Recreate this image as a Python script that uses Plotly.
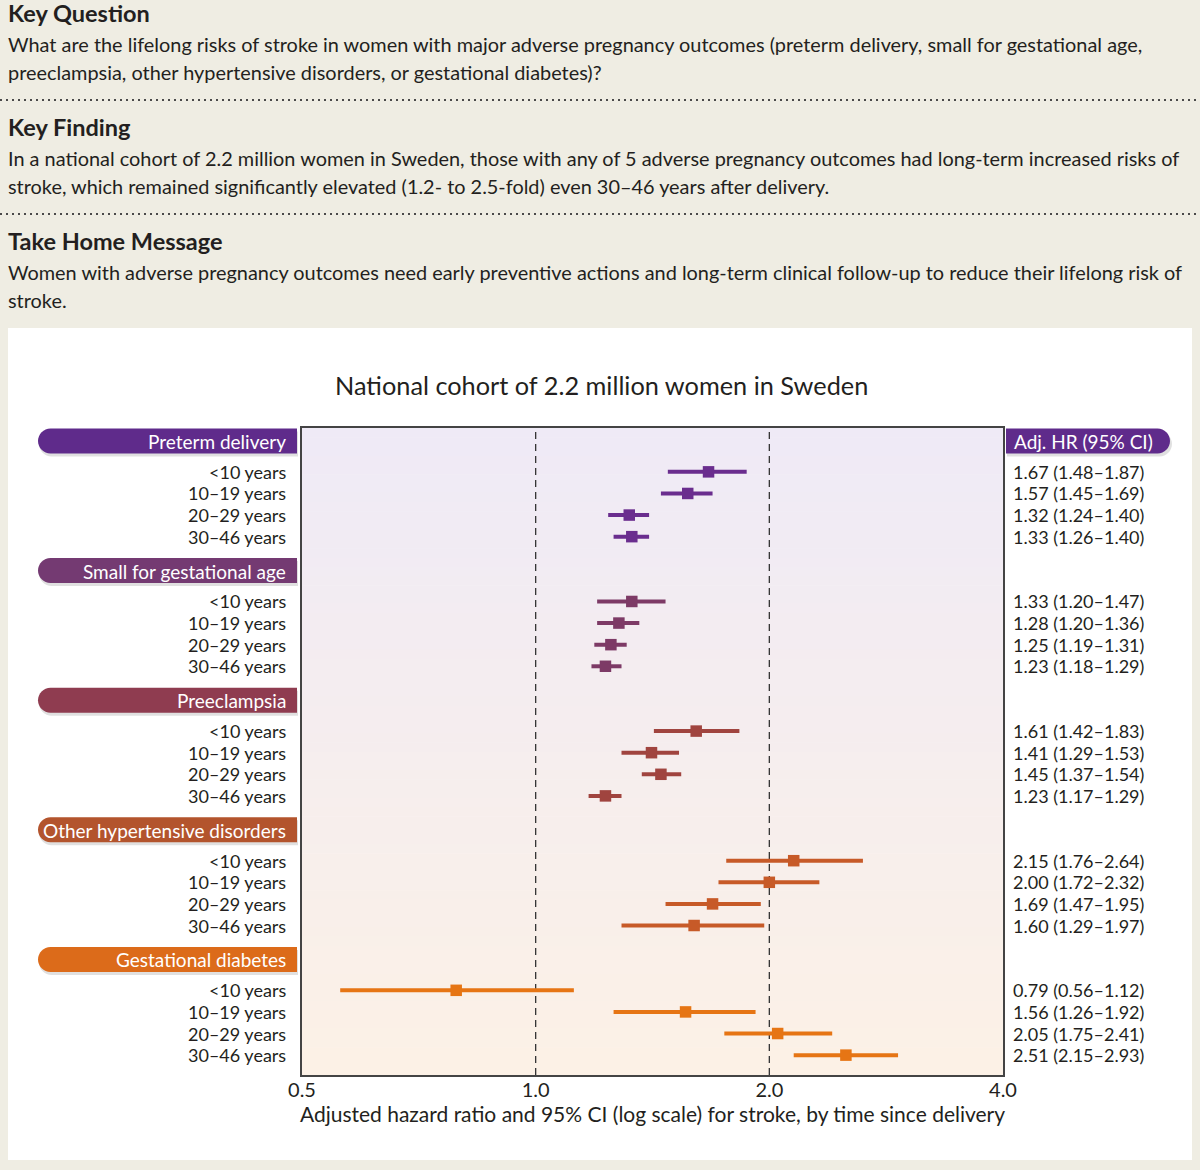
import math
import plotly.graph_objects as go

# ---------------- data ----------------
groups = ["Preterm delivery", "Small for gestational age", "Preeclampsia",
          "Other hypertensive disorders", "Gestational diabetes"]
periods = ["<10 years", "10–19 years", "20–29 years", "30–46 years"]
hr = [
    [1.67, 1.57, 1.32, 1.33],
    [1.33, 1.28, 1.25, 1.23],
    [1.61, 1.41, 1.45, 1.23],
    [2.15, 2.00, 1.69, 1.60],
    [0.79, 1.56, 2.05, 2.51],
]
lo = [
    [1.48, 1.45, 1.24, 1.26],
    [1.20, 1.20, 1.19, 1.18],
    [1.42, 1.29, 1.37, 1.17],
    [1.76, 1.72, 1.47, 1.29],
    [0.56, 1.26, 1.75, 2.15],
]
hi = [
    [1.87, 1.69, 1.40, 1.40],
    [1.47, 1.36, 1.31, 1.29],
    [1.83, 1.53, 1.54, 1.29],
    [2.64, 2.32, 1.95, 1.97],
    [1.12, 1.92, 2.41, 2.93],
]
tick_vals = [0.5, 1.0, 2.0, 4.0]
tick_text = ["0.5", "1.0", "2.0", "4.0"]
ref_lines = [1.0, 2.0]

marker_colors = ["#6a2d8e", "#7d3a66", "#a0443f", "#c75a28", "#e67514"]
pill_colors = ["#5f2b8b", "#743a72", "#8f3c50", "#b3542d", "#dc6b1a"]

title = "National cohort of 2.2 million women in Sweden"
xlabel = "Adjusted hazard ratio and 95% CI (log scale) for stroke, by time since delivery"
hr_header = "Adj. HR (95% CI)"

info = [
    ("Key Question",
     ["What are the lifelong risks of stroke in women with major adverse pregnancy outcomes (preterm delivery, small for gestational age,",
      "preeclampsia, other hypertensive disorders, or gestational diabetes)?"]),
    ("Key Finding",
     ["In a national cohort of 2.2 million women in Sweden, those with any of 5 adverse pregnancy outcomes had long-term increased risks of",
      "stroke, which remained significantly elevated (1.2- to 2.5-fold) even 30–46 years after delivery."]),
    ("Take Home Message",
     ["Women with adverse pregnancy outcomes need early preventive actions and long-term clinical follow-up to reduce their lifelong risk of",
      "stroke."]),
]

# ---------------- layout geometry ----------------
W, H = 1200, 1170
L, R, T, B = 302, 1003, 428, 1075  # plot area in px
FONT = "Lato"
TXT = "#231f20"

YMIN, YMAX = -0.6, 29.35   # slot units (reversed axis)
ROW_OFF = 1.43


def px(X):
    return (X - L) / (R - L)


def py(Y):
    return 1 - (Y - T) / (B - T)


def slot_to_Y(s):
    return T + (s - YMIN) / (YMAX - YMIN) * (B - T)


fig = go.Figure()

shapes = []
annotations = []

# white panel
shapes.append(dict(type="rect", xref="paper", yref="paper", x0=px(8), x1=px(1192),
                   y0=py(328), y1=py(1160), fillcolor="white", line_width=0, layer="below"))

# gradient plot background
top_c = (239, 234, 246)
bot_c = (252, 241, 230)
N = 70
for i in range(N):
    t = i / (N - 1)
    c = tuple(round(top_c[k] + (bot_c[k] - top_c[k]) * t) for k in range(3))
    y0 = T + (B - T) * i / N
    y1 = T + (B - T) * (i + 1) / N + 0.6
    shapes.append(dict(type="rect", xref="paper", yref="paper", x0=0, x1=1,
                       y0=py(min(y1, B)), y1=py(y0), fillcolor="rgb(%d,%d,%d)" % c,
                       line_width=0, layer="below"))

# dotted separators
for Y in (100, 214):
    shapes.append(dict(type="line", xref="paper", yref="paper", x0=px(0), x1=px(1200),
                       y0=py(Y), y1=py(Y), line=dict(color="#4a4a4a", width=2, dash="2px,4px")))

# info text
hdr_Y = [13, 127, 241]
for (head, lines), hy in zip(info, hdr_Y):
    annotations.append(dict(xref="paper", yref="paper", x=px(6), y=py(hy), xanchor="left",
                            yanchor="middle", showarrow=False, text="<b>%s</b>" % head,
                            font=dict(family=FONT, size=23.5, color=TXT)))
    for j, ln in enumerate(lines):
        annotations.append(dict(xref="paper", yref="paper", x=px(6), y=py(hy + 31 + 28 * j),
                                xanchor="left", yanchor="middle", showarrow=False, text=ln,
                                font=dict(family=FONT, size=19.9, color=TXT)))

# title
annotations.append(dict(xref="paper", yref="paper", x=px(601), y=py(385), xanchor="center",
                        yanchor="middle", showarrow=False, text=title,
                        font=dict(family=FONT, size=25.3, color=TXT)))


def pill_path(xl, xr, ymid, h, round_left=True):
    r = h / 2.0
    k = 0.5523 * r
    top, bot = ymid - r, ymid + r
    if round_left:
        pts = "M %f,%f L %f,%f C %f,%f %f,%f %f,%f C %f,%f %f,%f %f,%f L %f,%f Z" % (
            px(xr), py(top), px(xl + r), py(top),
            px(xl + r - k), py(top), px(xl), py(ymid - k), px(xl), py(ymid),
            px(xl), py(ymid + k), px(xl + r - k), py(bot), px(xl + r), py(bot),
            px(xr), py(bot))
    else:
        pts = "M %f,%f L %f,%f C %f,%f %f,%f %f,%f C %f,%f %f,%f %f,%f L %f,%f Z" % (
            px(xl), py(top), px(xr - r), py(top),
            px(xr - r + k), py(top), px(xr), py(ymid - k), px(xr), py(ymid),
            px(xr), py(ymid + k), px(xr - r + k), py(bot), px(xr - r), py(bot),
            px(xl), py(bot))
    return pts


# group headers + traces
for g, name in enumerate(groups):
    s_head = 6 * g
    Yh = slot_to_Y(s_head)
    shapes.append(dict(type="path", xref="paper", yref="paper",
                       path=pill_path(39, 298, Yh + 3, 25), fillcolor="rgba(0,0,0,0.12)",
                       line_width=0, layer="above"))
    shapes.append(dict(type="path", xref="paper", yref="paper",
                       path=pill_path(38, 297, Yh, 25), fillcolor=pill_colors[g],
                       line_width=0, layer="above"))
    annotations.append(dict(xref="paper", yref="paper", x=px(288), y=py(Yh + 0.5),
                            xanchor="right", yanchor="middle", showarrow=False, text=name,
                            font=dict(family=FONT, size=19, color="white")))
    ys = [s_head + ROW_OFF + i for i in range(len(periods))]
    fig.add_trace(go.Scatter(
        x=hr[g], y=ys, mode="markers",
        marker=dict(symbol="square", size=11.5, color=marker_colors[g]),
        error_x=dict(type="data", symmetric=False,
                     array=[h - m for h, m in zip(hi[g], hr[g])],
                     arrayminus=[m - l for m, l in zip(hr[g], lo[g])],
                     color=marker_colors[g], thickness=4, width=0),
        showlegend=False, hoverinfo="skip"))
    for i, p in enumerate(periods):
        annotations.append(dict(xref="paper", yref="y", x=px(288), y=ys[i], xanchor="right",
                                yanchor="middle", showarrow=False, text=p,
                                font=dict(family=FONT, size=18, color=TXT)))
        annotations.append(dict(xref="paper", yref="y", x=px(1011), y=ys[i], xanchor="left",
                                yanchor="middle", showarrow=False,
                                text="%.2f (%.2f–%.2f)" % (hr[g][i], lo[g][i], hi[g][i]),
                                font=dict(family=FONT, size=18, color=TXT)))

# HR header pill
Yh0 = slot_to_Y(0)
shapes.append(dict(type="path", xref="paper", yref="paper",
                   path=pill_path(1007, 1172, Yh0 + 3, 25, round_left=False),
                   fillcolor="rgba(0,0,0,0.12)", line_width=0, layer="above"))
shapes.append(dict(type="path", xref="paper", yref="paper",
                   path=pill_path(1006, 1170, Yh0, 25, round_left=False),
                   fillcolor=pill_colors[0], line_width=0, layer="above"))
annotations.append(dict(xref="paper", yref="paper", x=px(1012), y=py(Yh0 + 0.5), xanchor="left",
                        yanchor="middle", showarrow=False, text=hr_header,
                        font=dict(family=FONT, size=19, color="white")))

# reference dashed lines
for v in ref_lines:
    shapes.append(dict(type="line", xref="x", yref="paper", x0=v, x1=v, y0=0, y1=1,
                       line=dict(color="#333", width=1.3, dash="7px,5px"), layer="below"))

fig.update_layout(
    width=W, height=H,
    margin=dict(l=L, r=W - R, t=T, b=H - B, pad=0),
    paper_bgcolor="#efede3", plot_bgcolor="rgba(0,0,0,0)",
    shapes=shapes, annotations=annotations,
    font=dict(family=FONT, color=TXT),
    xaxis=dict(type="log", range=[math.log10(0.5), math.log10(4.0)],
               tickvals=tick_vals, ticktext=tick_text, ticks="", showgrid=False,
               zeroline=False, showline=True, mirror=True, linecolor="#444", linewidth=1.5,
               tickfont=dict(family=FONT, size=20, color=TXT), ticklabelstandoff=-4,
               title=dict(text=xlabel, font=dict(family=FONT, size=21, color=TXT), standoff=4)),
    yaxis=dict(range=[YMAX, YMIN], showticklabels=False, ticks="", showgrid=False,
               zeroline=False, showline=True, mirror=True, linecolor="#444", linewidth=1.5),
)

fig.write_html("out.html", config={"displayModeBar": False},
               post_script="document.body.style.margin='0';document.body.style.padding='0';"
                           "document.body.style.background='#efede3';")
